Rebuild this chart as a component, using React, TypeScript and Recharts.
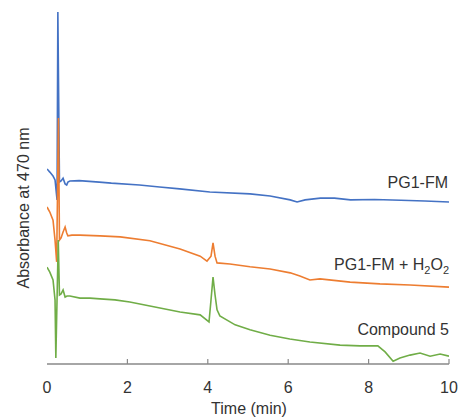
import React from "react";
import { LineChart, Line, XAxis, YAxis } from "recharts";

// PG1-FM (blue)
const pg1Time = [0, 0.07, 0.15, 0.2, 0.25, 0.27, 0.31, 0.35, 0.4, 0.45, 0.49, 0.52, 0.57, 0.8, 1.3, 1.6, 2.3, 2.8, 3.3, 4.05, 5.05, 5.55, 6.05, 6.22, 6.42, 6.8, 7.15, 7.55, 8.15, 8.8, 9.4, 10];
const pg1Abs = [54.8, 53.9, 52.8, 51.7, 46.1, 98.9, 51.1, 51.4, 52.2, 50.6, 50.3, 51.1, 51.4, 51.5, 51.1, 50.8, 50.3, 49.7, 49.2, 48.3, 47.8, 47.2, 46.1, 45.5, 46.1, 46.6, 46.6, 46.1, 46.2, 46.0, 45.8, 45.5];

// PG1-FM + H2O2 (orange)
const h2o2Time = [0, 0.07, 0.15, 0.2, 0.24, 0.285, 0.31, 0.35, 0.4, 0.45, 0.49, 0.52, 0.62, 0.82, 1.32, 1.82, 2.56, 3.31, 3.81, 3.98, 4.08, 4.13, 4.18, 4.23, 4.55, 5.05, 5.55, 6.05, 6.29, 6.54, 6.79, 7.54, 8.28, 9.03, 10];
const h2o2Abs = [44.1, 42.7, 40.4, 34.8, 28.7, 69.1, 34.8, 35.4, 37.1, 38.5, 36.8, 36.0, 36.2, 36.2, 36.0, 35.7, 34.6, 32.3, 30.3, 28.9, 30.3, 34.0, 30.3, 28.4, 28.1, 27.3, 26.7, 25.6, 24.7, 23.6, 23.9, 23.0, 22.5, 22.2, 21.6];

// Compound 5 (green)
const cmpTime = [0, 0.07, 0.15, 0.2, 0.22, 0.28, 0.31, 0.35, 0.4, 0.45, 0.5, 0.57, 0.82, 1.07, 1.32, 1.69, 2.06, 2.56, 3.31, 3.81, 4.03, 4.08, 4.13, 4.18, 4.23, 4.3, 4.68, 5.05, 5.55, 6.04, 6.54, 7.29, 7.79, 8.23, 8.41, 8.61, 8.78, 9.03, 9.28, 9.53, 9.78, 10];
const cmpAbs = [27.2, 25.8, 23.6, 18.0, 1.7, 34.8, 19.4, 19.7, 20.8, 18.8, 19.1, 19.1, 18.5, 18.5, 18.3, 18.0, 17.4, 16.3, 14.6, 13.8, 11.8, 18.0, 24.4, 19.4, 15.2, 13.5, 11.0, 9.6, 8.1, 7.0, 6.2, 5.3, 5.1, 5.1, 3.4, 0.8, 1.7, 2.5, 3.1, 2.2, 2.8, 2.2];

const xTicks = [0, 2, 4, 6, 8, 10];
const seriesNames = ["PG1-FM", "PG1-FM + H2O2", "Compound 5"];

const zip = (t: number[], v: number[]) => t.map((time, i) => ({ time, abs: v[i] }));
const pg1Data = zip(pg1Time, pg1Abs);
const h2o2Data = zip(h2o2Time, h2o2Abs);
const cmpData = zip(cmpTime, cmpAbs);

const FONT = "'Liberation Sans', Arial, sans-serif";
const TEXT = "#333333";
const AXIS = "#898989";

const XTick = (props: any) => {
  const { x, y, payload } = props;
  return (
    <g>
      {payload.value !== 0 && (
        <line x1={x} x2={x} y1={y - 5} y2={y} stroke={AXIS} strokeWidth={1.2} />
      )}
      <text x={x} y={y + 29} textAnchor="middle" fontSize={16} fontFamily={FONT} fill={TEXT}>
        {payload.value}
      </text>
    </g>
  );
};

export default function App() {
  return (
    <div style={{ position: "absolute", left: 0, top: 0, width: 459, height: 420, background: "#fff" }}>
      <LineChart width={459} height={420} margin={{ top: 8, right: 10, bottom: 16, left: 47 }}>
        <XAxis
          type="number"
          dataKey="time"
          domain={[0, 10]}
          ticks={xTicks}
          allowDataOverflow
          axisLine={{ stroke: AXIS, strokeWidth: 1.5 }}
          tickLine={false}
          tickSize={0}
          tickMargin={0}
          height={40}
          tick={<XTick />}
          interval={0}
        />
        <YAxis
          type="number"
          domain={[0, 100]}
          width={0}
          tick={false}
          tickLine={false}
          axisLine={{ stroke: AXIS, strokeWidth: 1.5 }}
          allowDataOverflow
        />
        <Line data={pg1Data} dataKey="abs" name={seriesNames[0]} stroke="#4472C4" strokeWidth={1.6} dot={false} isAnimationActive={false} />
        <Line data={h2o2Data} dataKey="abs" name={seriesNames[1]} stroke="#ED7D31" strokeWidth={1.6} dot={false} isAnimationActive={false} />
        <Line data={cmpData} dataKey="abs" name={seriesNames[2]} stroke="#70AD47" strokeWidth={1.6} dot={false} isAnimationActive={false} />
        <text x={448} y={188} textAnchor="end" fontSize={16} fontFamily={FONT} fill={TEXT}>
          {seriesNames[0]}
        </text>
        <text x={449} y={270} textAnchor="end" fontSize={16} fontFamily={FONT} fill={TEXT}>
          PG1-FM + H<tspan fontSize={11} dy={4}>2</tspan>
          <tspan dy={-4}>O</tspan>
          <tspan fontSize={11} dy={4}>2</tspan>
        </text>
        <text x={449} y={335} textAnchor="end" fontSize={16} fontFamily={FONT} fill={TEXT}>
          {seriesNames[2]}
        </text>
        <text x={249} y={414} textAnchor="middle" fontSize={16} fontFamily={FONT} fill={TEXT}>
          Time (min)
        </text>
        <text
          x={23}
          y={208}
          textAnchor="middle"
          fontSize={16}
          fontFamily={FONT}
          fill={TEXT}
          transform="rotate(-90 23 208)"
          dominantBaseline="central"
        >
          Absorbance at 470 nm
        </text>
      </LineChart>
    </div>
  );
}
